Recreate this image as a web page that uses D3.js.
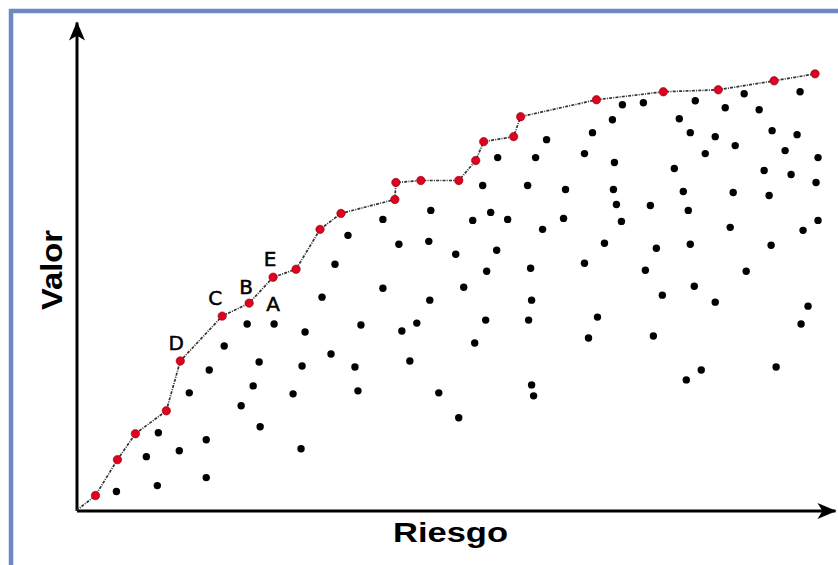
<!DOCTYPE html>
<html>
<head>
<meta charset="utf-8">
<script src="https://cdn.jsdelivr.net/npm/d3@7"></script>
<style>
  html, body { margin: 0; padding: 0; background: #fff; }
  svg { display: block; }
</style>
</head>
<body>
<svg id="chart" width="838" height="565"></svg>
<script>
// ---- Data (arbitrary units: riesgo, valor) ----
// Efficient frontier (red points), line starts at the origin
const frontierRiesgo = [19, 41, 59, 90, 104, 146, 173, 197, 220, 244, 265, 319, 320, 345, 383, 400, 408, 438, 445, 521, 588, 643, 699, 740];
const frontierValor  = [15, 51, 77, 100, 150, 195, 208, 234, 242, 282, 298, 312, 329, 331, 331, 351, 370, 375, 395, 412, 420, 422, 431, 438];

// Other portfolios (black points)
const puntosRiesgo = [307,272,323,259,307,547,568,537,620,604,669,725,650,684,517,471,615,640,697,722,660,422,460,509,539,630,710,743,599,689,716,741,407,452,490,538,608,658,694,355,541,575,613,397,415,432,467,488,546,655,743,728,353,380,421,529,581,615,696,411,455,509,570,671,388,619,354,456,341,410,453,399,522,513,587,640,578,733,726,363,383,456,458,611,626,701,246,171,198,229,285,326,148,183,226,255,279,334,133,113,177,217,282,165,184,82,70,103,130,225,40,81,130];
const puntosValor  = [292,276,267,247,223,407,409,392,411,393,418,420,404,402,379,372,379,375,381,377,366,354,354,358,349,358,361,354,343,341,337,329,326,326,322,322,320,319,316,301,307,306,301,291,299,292,282,293,290,284,291,281,270,257,261,268,263,267,266,240,243,248,241,240,224,225,211,211,188,191,191,168,194,173,216,209,175,205,187,118,93,126,115,131,141,144,214,187,187,179,186,180,165,149,145,157,144,150,141,118,125,117,120,105,84,78,54,60,71,62,19,25,33];

// Labels
const etiquetas = ["A", "B", "C", "D", "E"];
const etiquetaRiesgo = [198, 173, 146, 104, 197];
const etiquetaValor  = [187, 208, 195, 150, 234];

const ejeX = "Riesgo";
const ejeY = "Valor";

// ---- Drawing ----
const svg = d3.select("#chart");

// Blue frame
svg.append("rect")
  .attr("x", 11).attr("y", 11)
  .attr("width", 860).attr("height", 600)
  .attr("fill", "#fff")
  .attr("stroke", "#6d88c2")
  .attr("stroke-width", 4.5);

const x = d3.scaleLinear().domain([0, 760]).range([76.5, 835]);
const y = d3.scaleLinear().domain([0, 490]).range([510.5, 22]);

// Arrow marker
const defs = svg.append("defs");
defs.append("marker")
  .attr("id", "arrow")
  .attr("markerUnits", "userSpaceOnUse")
  .attr("viewBox", "-20 -10 22 20")
  .attr("refX", 0).attr("refY", 0)
  .attr("markerWidth", 22).attr("markerHeight", 20)
  .attr("orient", "auto")
  .append("path")
  .attr("d", "M1,0 L-18,-8 L-14,-1.5 L-14,1.5 L-18,8 Z")
  .attr("fill", "#000");

// Axes (no ticks)
const gx = svg.append("g")
  .attr("transform", `translate(0,${y(0)})`)
  .call(d3.axisBottom(x).ticks(0).tickSize(0).tickSizeOuter(0));
const gy = svg.append("g")
  .attr("transform", `translate(${x(0)},0)`)
  .call(d3.axisLeft(y).ticks(0).tickSize(0).tickSizeOuter(0));
[gx, gy].forEach(g => {
  g.select(".domain")
    .attr("stroke", "#000")
    .attr("stroke-width", 3)
    .attr("marker-end", "url(#arrow)");
  g.selectAll(".tick").remove();
});

// Axis titles
svg.append("text")
  .attr("x", 450.5).attr("y", 542)
  .attr("text-anchor", "middle")
  .attr("font-family", "Liberation Sans, Arial, sans-serif")
  .attr("font-weight", "bold")
  .attr("font-size", 28)
  .attr("textLength", 115)
  .attr("lengthAdjust", "spacingAndGlyphs")
  .attr("fill", "#000")
  .text(ejeX);

svg.append("text")
  .attr("transform", "translate(62,270) rotate(-90)")
  .attr("text-anchor", "middle")
  .attr("font-family", "Liberation Sans, Arial, sans-serif")
  .attr("font-weight", "bold")
  .attr("font-size", 29)
  .attr("textLength", 80)
  .attr("lengthAdjust", "spacingAndGlyphs")
  .attr("fill", "#000")
  .text(ejeY);

// Black points
const puntos = puntosRiesgo.map((r, i) => [r, puntosValor[i]]);
svg.append("g").selectAll("circle")
  .data(puntos)
  .join("circle")
  .attr("cx", d => x(d[0]))
  .attr("cy", d => y(d[1]))
  .attr("r", 3.7)
  .attr("fill", "#000");

// Frontier line
const frontera = frontierRiesgo.map((r, i) => [r, frontierValor[i]]);
const linea = d3.line().x(d => x(d[0])).y(d => y(d[1]));
svg.append("path")
  .datum([[0, 0]].concat(frontera))
  .attr("d", linea)
  .attr("fill", "none")
  .attr("stroke", "#333")
  .attr("stroke-width", 1.7)
  .attr("stroke-dasharray", "3,1.2,1,1.2");

svg.append("g").selectAll("circle")
  .data(frontera)
  .join("circle")
  .attr("cx", d => x(d[0]))
  .attr("cy", d => y(d[1]))
  .attr("r", 4.2)
  .attr("fill", "#e2001f")
  .attr("stroke", "#7a0015")
  .attr("stroke-width", 0.6);

// Point labels
const offsets = { A: [-1, -13], B: [-3, -9], C: [-7, -11], D: [-4, -11], E: [-3, -11] };
svg.append("g").selectAll("text")
  .data(etiquetas.map((t, i) => ({ t, r: etiquetaRiesgo[i], v: etiquetaValor[i] })))
  .join("text")
  .attr("x", d => x(d.r) + offsets[d.t][0])
  .attr("y", d => y(d.v) + offsets[d.t][1])
  .attr("text-anchor", "middle")
  .attr("font-family", "DejaVu Sans, Verdana, sans-serif")
  .attr("font-size", 20)
  .attr("fill", "#000")
  .attr("stroke", "#000")
  .attr("stroke-width", 0.5)
  .text(d => d.t);
</script>
</body>
</html>
